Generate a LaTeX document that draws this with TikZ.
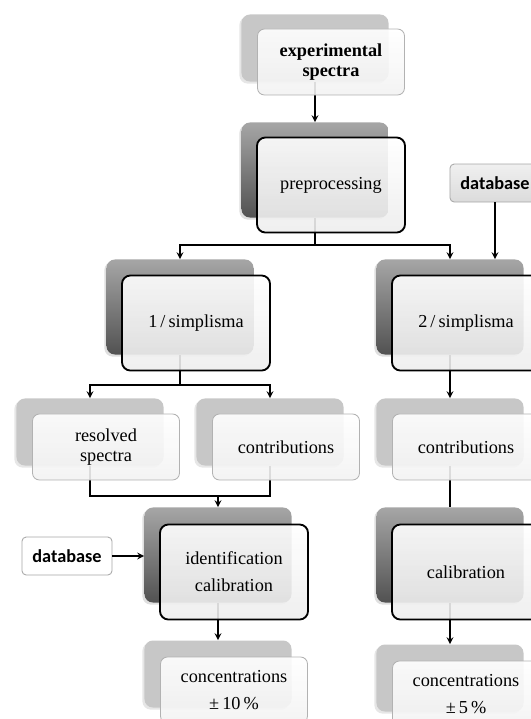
\documentclass[tikz,border=0pt]{standalone}
\usepackage{fontspec}
\setmainfont{Liberation Serif}
\newfontfamily\dbfont{Carlito}
\usetikzlibrary{shadows}

\begin{document}
\begin{tikzpicture}[>=stealth, x=0.025cm, y=-0.025cm,
  every node/.style={font=\fontsize{13}{15}\selectfont, inner sep=0pt, align=center},
  darkback/.style={rectangle, rounded corners=6pt, minimum width=3.675cm, minimum height=2.375cm,
    top color=black!35, bottom color=black!68,
    drop shadow={shadow xshift=-1.5pt, shadow yshift=-1.5pt, opacity=0.25}},
  darkfront/.style={rectangle, rounded corners=6pt, minimum width=3.7cm, minimum height=2.375cm,
    draw=black, line width=1.3pt, top color=white, bottom color=black!7,
    fill opacity=0.9, text opacity=1},
  lightback/.style={rectangle, rounded corners=6pt, minimum width=3.675cm, minimum height=1.675cm,
    fill=black!22, drop shadow={shadow xshift=-1.5pt, shadow yshift=-1.5pt, opacity=0.2}},
  lightfront/.style={rectangle, rounded corners=5pt, minimum width=3.675cm, minimum height=1.65cm,
    draw=black!30, line width=0.6pt, top color=white, bottom color=black!5,
    fill opacity=0.9, text opacity=1},
  dbbox/.style={rectangle, rounded corners=3pt, minimum width=2.25cm, minimum height=0.95cm,
    draw=black!35, line width=0.6pt, font=\fontsize{13}{15}\dbfont\bfseries},
  link/.style={line width=1.2pt}]

\useasboundingbox (0,0) rectangle (531,719);
\clip (0,0) rectangle (531,719);

% --- Boites arriere ---
\node[lightback] (expB) at (315,48) {};
\node[darkback] (preB) at (315,170) {};
\node[darkback] (simB1) at (180,307) {};
\node[darkback] (simB2) at (450,307) {};
\node[lightback] (resB) at (90,432) {};
\node[lightback] (conLB) at (270,432) {};
\node[lightback] (conRB) at (450,432) {};
\node[darkback] (idB) at (218,555) {};
\node[darkback] (calB) at (450,555) {};
\node[lightback] (cncLB) at (218,674) {};
\node[lightback] (cncRB) at (450,678) {};

% --- Bases de donnees ---
\node[dbbox, top color=black!6, bottom color=black!14] (dbT) at (495,183) {database};
\node[dbbox, fill=white] (dbL) at (67,556) {database};

% --- Liens ---
\coordinate (split1) at (315,245);
\coordinate (split2) at (180,385);
\coordinate (merge) at (218,496);

\draw[link,->] (expB.south) -- (preB.north);
\draw[link] (preB.south) -- (split1);
\draw[link,->] (split1) -| (simB1.north);
\draw[link,->] (split1) -| (simB2.north);
\draw[link,->] (dbT.south) -- (dbT.south |- simB2.north);

\draw[link] (simB1.south) -- (split2);
\draw[link,->] (split2) -| (resB.north);
\draw[link,->] (split2) -| (conLB.north);
\draw[link,->] (simB2.south) -- (conRB.north);

\draw[link] (resB.south) |- (merge);
\draw[link] (conLB.south) |- (merge);
\draw[link,->] (merge) -- (idB.north);
\draw[link] (conRB.south) -- (calB.north);
\draw[link,->] (dbL.east) -- (idB.west |- dbL.east);

\draw[link,->] (idB.south) -- (cncLB.north);
\draw[link,->] (calB.south) -- (cncRB.north);

% --- Boites avant ---
\node[lightfront, font=\fontsize{13}{14.5}\selectfont\bfseries] (expF) at (331,62) {experimental\\spectra};
\node[darkfront] (preF) at (331,185) {preprocessing};
\node[darkfront] (simF1) at (196,323) {1\,/\,simplisma};
\node[darkfront] (simF2) at (466,323) {2\,/\,simplisma};
\node[lightfront, font=\fontsize{13}{14}\selectfont] (resF) at (106,447) {resolved\\spectra};
\node[lightfront] (conLF) at (286,447) {contributions};
\node[lightfront] (conRF) at (466,447) {contributions};
\node[darkfront] (idF) at (234,572) {identification\\[4pt]calibration};
\node[darkfront] (calF) at (466,572) {calibration};
\node[lightfront] (cncLF) at (234,690) {concentrations\\[4pt]±\,10\,\%};
\node[lightfront] (cncRF) at (466,694) {concentrations\\[4pt]±\,5\,\%};

\end{tikzpicture}
\end{document}
